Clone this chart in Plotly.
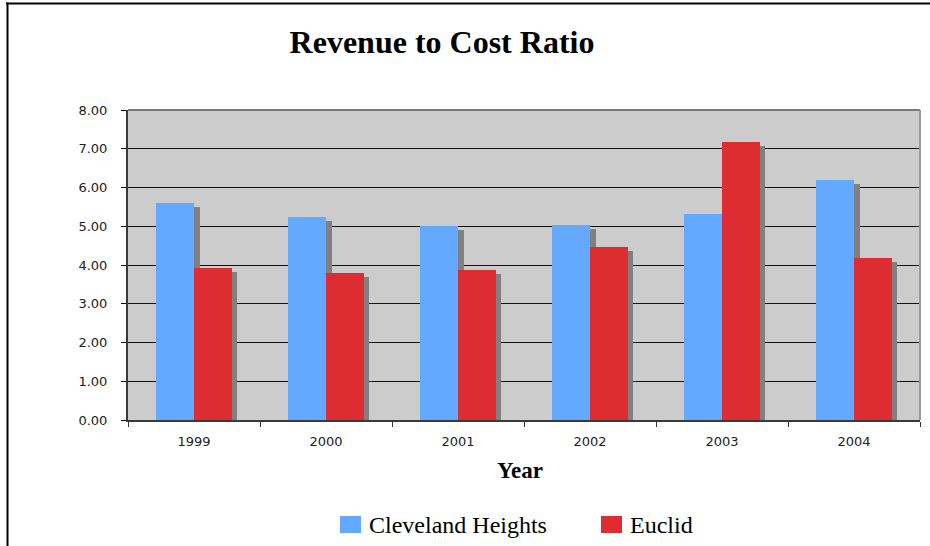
import plotly.graph_objects as go

# Revenue-to-cost ratio by year for two cities
years = ["1999", "2000", "2001", "2002", "2003", "2004"]
cleveland_heights = [5.59, 5.24, 5.01, 5.03, 5.32, 6.19]
euclid = [3.93, 3.79, 3.87, 4.46, 7.17, 4.18]
series_names = ["Cleveland Heights", "Euclid"]
y_ticks = [0, 1, 2, 3, 4, 5, 6, 7, 8]

BLUE = "#63a9ff"
RED = "#de2c33"
SHADOW = "#808080"

W, H = 930, 546
L, R, T, B = 128, 10, 110, 126
PW, PH = W - L - R, H - T - B


def px_x(x):
    return (x - L) / PW


def px_y(y):
    return (H - B - y) / PH


BAR_W = 0.286
SH_DX = 0.042                     # shadow shift to the right (category units)
SH_DY = 4 * (max(y_ticks) / PH)   # shadow top drops 4px

fig = go.Figure()

# drop shadows behind each bar
for vals, off in ((cleveland_heights, -BAR_W), (euclid, 0.0)):
    fig.add_trace(go.Bar(
        x=years, y=[v - SH_DY for v in vals], base=0,
        width=BAR_W, offset=off + SH_DX,
        marker=dict(color=SHADOW, line=dict(width=0)),
        hoverinfo="skip", showlegend=False,
    ))

fig.add_trace(go.Bar(
    x=years, y=cleveland_heights, name=series_names[0],
    width=BAR_W, offset=-BAR_W,
    marker=dict(color=BLUE, line=dict(width=0)), showlegend=False,
))
fig.add_trace(go.Bar(
    x=years, y=euclid, name=series_names[1],
    width=BAR_W, offset=0.0,
    marker=dict(color=RED, line=dict(width=0)), showlegend=False,
))

shapes = [
    # plot frame: top and right edges in gray
    dict(type="line", xref="paper", yref="paper", x0=0, x1=1, y0=1, y1=1,
         line=dict(color="#7a7a7a", width=2), layer="above"),
    dict(type="line", xref="paper", yref="paper", x0=1, x1=1, y0=0, y1=1,
         line=dict(color="#999999", width=2), layer="above"),
    # outer chart border (top and left)
    dict(type="line", xref="paper", yref="paper", x0=px_x(6), x1=px_x(935),
         y0=px_y(3.5), y1=px_y(3.5), line=dict(color="black", width=2)),
    dict(type="line", xref="paper", yref="paper", x0=px_x(7.5), x1=px_x(7.5),
         y0=px_y(2.5), y1=px_y(550), line=dict(color="black", width=2)),
]

annotations = [
    dict(text="<b>Year</b>", xref="paper", yref="paper", x=px_x(520), y=px_y(470),
         xanchor="center", yanchor="middle", showarrow=False,
         font=dict(family="Liberation Serif", size=23, color="black")),
]

# legend drawn as swatches plus labels
legend_items = [(series_names[0], BLUE, 340), (series_names[1], RED, 601)]
for name, color, x0 in legend_items:
    shapes.append(dict(type="rect", xref="paper", yref="paper",
                       x0=px_x(x0), x1=px_x(x0 + 21), y0=px_y(533), y1=px_y(516),
                       fillcolor=color, line=dict(width=0)))
    annotations.append(dict(text=name, xref="paper", yref="paper",
                            x=px_x(x0 + 27), y=px_y(525), xanchor="left", yanchor="middle",
                            showarrow=False,
                            font=dict(family="Liberation Serif", size=24, color="black")))

fig.update_layout(
    width=W, height=H,
    margin=dict(l=L, r=R, t=T, b=B),
    paper_bgcolor="white",
    plot_bgcolor="#cccccc",
    barmode="overlay",
    bargap=0,
    title=dict(text="<b>Revenue to Cost Ratio</b>", xref="container", yref="container",
               x=442 / W, y=1 - 42 / H, xanchor="center", yanchor="middle",
               font=dict(family="Liberation Serif", size=32, color="black")),
    xaxis=dict(
        type="category", range=[-0.5, len(years) - 0.5],
        tickson="boundaries", ticks="outside", ticklen=5, tickwidth=1, tickcolor="#333333",
        showline=True, linecolor="#3a3a3a", linewidth=2,
        showgrid=False, ticklabelstandoff=8,
        tickfont=dict(family="DejaVu Sans", size=13, color="#222222"),
    ),
    yaxis=dict(
        range=[0, max(y_ticks)], tickvals=y_ticks, tickformat=".2f",
        ticks="outside", ticklen=5, tickwidth=1, tickcolor="black",
        showline=True, linecolor="#3a3a3a", linewidth=2,
        showgrid=True, gridcolor="#111111", gridwidth=1,
        zeroline=False, ticklabelstandoff=11,
        tickfont=dict(family="DejaVu Sans", size=13, color="#222222"),
    ),
    shapes=shapes,
    annotations=annotations,
)

fig.write_html("out.html")
